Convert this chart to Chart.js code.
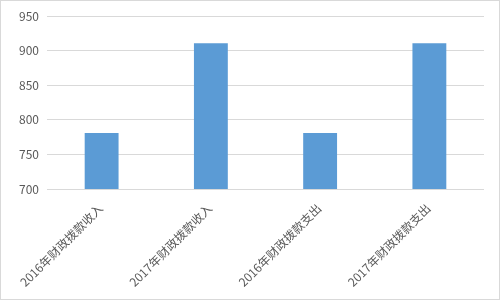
<!DOCTYPE html>
<html>
<head>
<meta charset="utf-8">
<script src="https://cdn.jsdelivr.net/npm/chart.js@4"></script>
<style>
html,body{margin:0;padding:0;background:#fff;}
#wrap{position:absolute;left:0;top:0;width:500px;height:300px;box-sizing:border-box;border:1px solid #d9d9d9;background:#fff;}
#c{display:block;}
</style>
</head>
<body>
<div id="wrap"><canvas id="c" width="498" height="298"></canvas></div>
<script>
const categories = ["2016年财政拨款收入", "2017年财政拨款收入", "2016年财政拨款支出", "2017年财政拨款支出"];
const values = [781, 911, 781, 911];
const yTicks = [700, 750, 800, 850, 900, 950];

const textColor = '#595959';
const fontFamily = '"Noto Sans CJK SC", "Noto Sans", sans-serif';

new Chart(document.getElementById('c'), {
  type: 'bar',
  data: {
    labels: categories,
    datasets: [{
      data: values,
      backgroundColor: '#5b9bd5',
      borderWidth: 0,
      barPercentage: 0.31,
      categoryPercentage: 1.0
    }]
  },
  options: {
    responsive: false,
    animation: false,
    layout: { padding: { top: 15, right: 15, left: 0, bottom: 0 } },
    plugins: { legend: { display: false }, tooltip: { enabled: false } },
    scales: {
      x: {
        grid: { display: false, drawTicks: false },
        border: { display: false },
        ticks: {
          color: textColor,
          font: { family: fontFamily, size: 12 },
          minRotation: 45,
          maxRotation: 45,
          padding: 12,
          labelOffset: -1,
          autoSkip: false
        },
        afterFit: (s) => { s.height = 110; }
      },
      y: {
        min: yTicks[0],
        max: yTicks[yTicks.length - 1],
        afterBuildTicks: (s) => { s.ticks = yTicks.map(v => ({ value: v })); },
        grid: { color: '#d9d9d9', lineWidth: 1, drawTicks: false },
        border: { display: false },
        ticks: {
          color: textColor,
          font: { family: fontFamily, size: 12 },
          padding: 8
        },
        afterFit: (s) => { s.width = 46; }
      }
    }
  }
});
</script>
</body>
</html>
